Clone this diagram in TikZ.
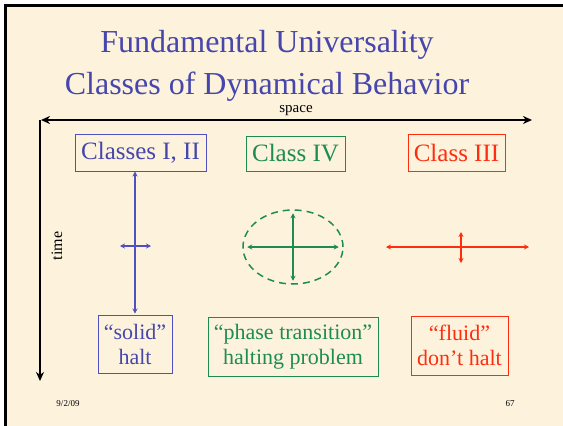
\documentclass[tikz,border=0pt]{standalone}
\usepackage{fontspec}
\setmainfont{Liberation Serif}
\usetikzlibrary{arrows.meta,shapes.geometric}
\definecolor{bg}{RGB}{253,243,221}
\definecolor{tblue}{RGB}{70,70,172}
\definecolor{bblue}{RGB}{80,80,190}
\definecolor{cgreen}{RGB}{30,140,80}
\definecolor{cred}{RGB}{255,45,15}
\tikzset{
  box/.style={draw, line width=1pt, inner sep=0pt, align=center, font=\fontsize{22}{25}\selectfont},
  topbox/.style={box, font=\fontsize{25}{28}\selectfont},
  lbl/.style={inner sep=0pt, align=center},
  dtip/.style={{Stealth[length=5pt,width=5pt]}-{Stealth[length=5pt,width=5pt]}},
  btip/.style={{Stealth[length=9pt,width=8pt]}-{Stealth[length=9pt,width=8pt]}},
}
\begin{document}
\begin{tikzpicture}[x=1pt,y=-1pt]
\useasboundingbox (0,0) rectangle (563,426);
\fill[white] (0,0) rectangle (563,426);
\fill[bg] (7,7) rectangle (563,426);
\fill[black] (4,4) rectangle (563,7);
\fill[black] (4,4) rectangle (7,426);
% title
\node[lbl, text=tblue, font=\fontsize{32}{42}\selectfont] (title) at (267,66) {Fundamental Universality\\Classes of Dynamical Behavior};
% axes
\coordinate (sl) at (41,120);
\coordinate (sr) at (532,120);
\draw[btip, line width=2.5pt] (sl) -- (sr);
\node[lbl, font=\fontsize{15}{18}\selectfont] (space) at (296,111) {space};
\coordinate (tt) at (40,120);
\coordinate (tb) at (40,381);
\draw[-{Stealth[length=9pt,width=8pt]}, line width=2.5pt] (tt) -- (tb);
\node[lbl, rotate=90, font=\fontsize{16}{18}\selectfont] (time) at (57,246) {time};
% top boxes
\node[topbox, draw=bblue, text=tblue, minimum width=131pt, minimum height=37pt] (c12) at (140.5,152.5) {Classes I, II};
\node[topbox, draw=cgreen, text=cgreen, minimum width=99pt, minimum height=35pt] (c4) at (295.5,153.5) {Class IV};
\node[topbox, draw=cred, text=cred, minimum width=97pt, minimum height=37pt] (c3) at (456.5,152.5) {Class III};
% bottom boxes
\node[box, draw=bblue, text=tblue, minimum width=74pt, minimum height=58pt] (solid) at (135,344) {“solid”\\halt};
\node[box, draw=cgreen, text=cgreen, minimum width=170pt, minimum height=59pt] (phase) at (293,346.5) {“phase transition”\\halting problem};
\node[box, draw=cred, text=cred, minimum width=97pt, minimum height=59pt] (fluid) at (459.5,345.5) {“fluid”\\don’t halt};
% class I,II cross
\draw[dtip, bblue, line width=1.5pt] (solid.north |- c12.south) -- ([yshift=1pt]solid.north);
\coordinate (bl) at (120,246);
\coordinate (br) at (151,246);
\draw[dtip, bblue, line width=1.5pt] (bl) -- (br);
% class IV ellipse
\node[ellipse, draw=cgreen, dash pattern=on 7pt off 5pt, line width=1.5pt, minimum width=100pt, minimum height=74pt, inner sep=0pt] (ell) at (293,247) {};
\draw[dtip, cgreen, line width=1.5pt] ([xshift=5pt]ell.west) -- ([xshift=-5pt]ell.east);
\draw[dtip, cgreen, line width=1.5pt] ([yshift=-4pt]ell.north) -- ([yshift=4pt]ell.south);
% class III cross
\coordinate (rl) at (386,247);
\coordinate (rr) at (529,247);
\draw[dtip, cred, line width=1.5pt] (rl) -- (rr);
\coordinate (rt) at (461,232);
\coordinate (rb) at (461,263);
\draw[dtip, cred, line width=1.5pt] (rt) -- (rb);
% footer
\node[lbl, font=\fontsize{9}{10}\selectfont] (date) at (68,404) {9/2/09};
\node[lbl, font=\fontsize{9}{10}\selectfont] (page) at (510,404) {67};
\end{tikzpicture}
\end{document}
